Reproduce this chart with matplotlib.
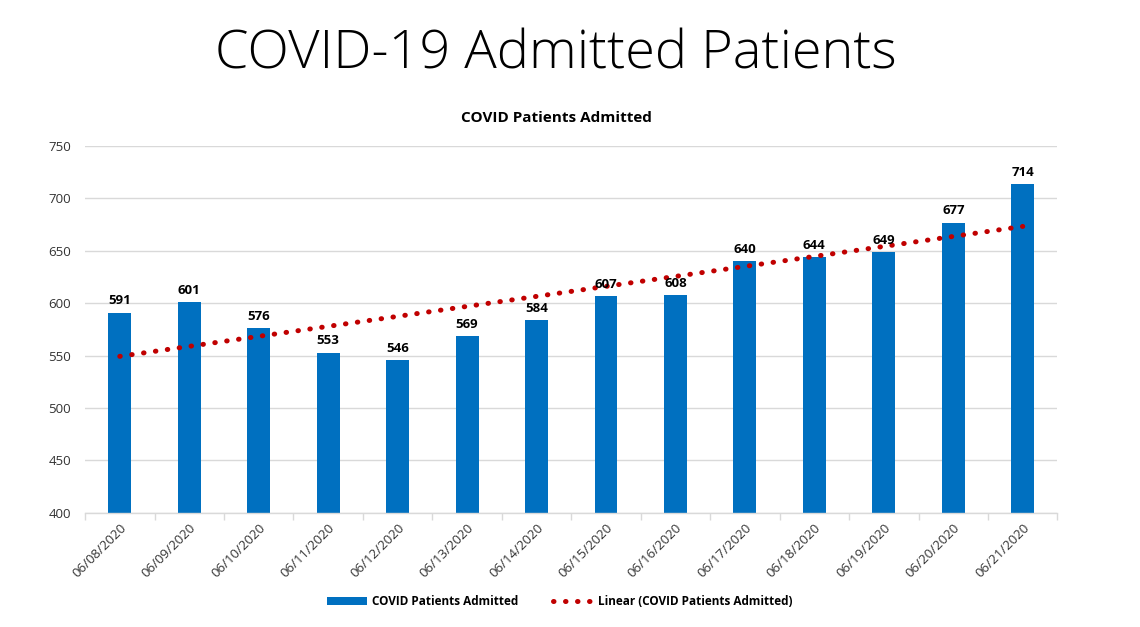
import numpy as np
import matplotlib.pyplot as plt
from matplotlib.lines import Line2D
from matplotlib.patches import Patch

dates = ["06/08/2020", "06/09/2020", "06/10/2020", "06/11/2020", "06/12/2020",
         "06/13/2020", "06/14/2020", "06/15/2020", "06/16/2020", "06/17/2020",
         "06/18/2020", "06/19/2020", "06/20/2020", "06/21/2020"]
admitted = [591, 601, 576, 553, 546, 569, 584, 607, 608, 640, 644, 649, 677, 714]
y_ticks = [400, 450, 500, 550, 600, 650, 700, 750]

plt.rcParams['font.family'] = ['Open Sans', 'DejaVu Sans']

blue = '#0070C0'
red = '#C00000'
grid_grey = '#D9D9D9'
dots = (0, (0.1, 2.3))

fig = plt.figure(figsize=(11.4, 6.27), dpi=100)
ax = fig.add_axes([0.0746, 0.182, 0.853, 0.585])

x = np.arange(len(dates))
ax.bar(x, admitted, width=0.33, color=blue, zorder=2)

# linear trend line, like excel
slope, icpt = np.polyfit(x, admitted, 1)
ax.plot(x, slope * x + icpt, color=red, linestyle=dots,
        linewidth=3.6, dash_capstyle='round', zorder=3)

for xi, v in zip(x, admitted):
    ax.text(xi, v + 5, str(v), ha='center', va='bottom', fontsize=9.5,
            fontweight='bold', color='black', zorder=4)

ax.set_xlim(-0.5, len(dates) - 0.5)
ax.set_ylim(400, 750)
ax.set_yticks(y_ticks)
ax.set_xticks(x)
ax.set_xticklabels(dates, rotation=45, ha='right', rotation_mode='anchor',
                   fontsize=9.5, color='#333333')
ax.tick_params(axis='y', length=0, labelsize=9.5, labelcolor='#333333', pad=10)
ax.tick_params(axis='x', length=0, pad=6)
# small tick marks between categories
ax.set_xticks(np.arange(-0.5, len(dates), 1), minor=True)
ax.tick_params(axis='x', which='minor', length=5, color=grid_grey, width=1)

ax.grid(axis='y', color=grid_grey, linewidth=1, zorder=0)
for s in ['top', 'right', 'left']:
    ax.spines[s].set_visible(False)
ax.spines['bottom'].set_color(grid_grey)
ax.spines['bottom'].set_linewidth(1)

fig.text(0.488, 0.812, 'COVID Patients Admitted', ha='center', va='center',
         fontsize=11, fontweight='bold', color='black')

fig.text(0.488, 0.912, 'COVID-19 Admitted Patients', ha='center', va='center',
         fontsize=39, fontweight='light', color='black')

handles = [Patch(facecolor=blue),
           Line2D([0], [0], color=red, linestyle=dots, linewidth=3.6,
                  dash_capstyle='round')]
labels = ['COVID Patients Admitted', 'Linear (COVID Patients Admitted)']
leg = fig.legend(handles, labels, loc='center', bbox_to_anchor=(0.491, 0.041),
                 ncol=2, frameon=False, handlelength=3.4, handleheight=0.7,
                 handletextpad=0.4, columnspacing=3.0,
                 prop={'size': 8.5, 'weight': 'bold'})

fig.savefig('out.png', dpi=100)
